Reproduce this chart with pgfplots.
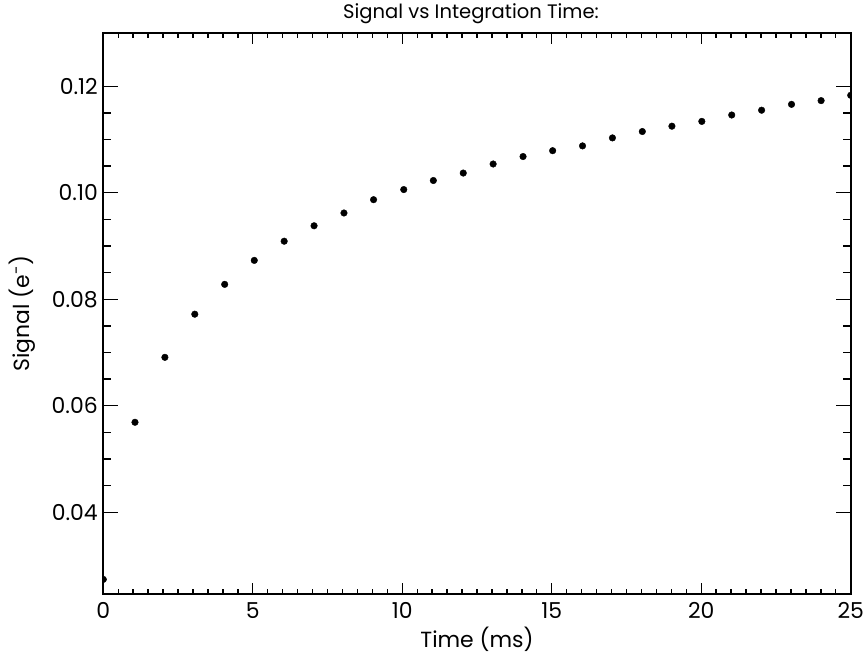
\documentclass[border=0pt]{standalone}
\usepackage{fontspec}
\setmainfont{Poppins}
\usepackage{pgfplots}
\pgfplotsset{compat=1.18}
\begin{document}
\begin{tikzpicture}
\useasboundingbox (-103.3bp,-64.7bp) rectangle (760.7bp,594.3bp);
\begin{axis}[
  at={(0,0)}, anchor=south west,
  scale only axis, width=747.4bp, height=561.3bp,
  xmin=0, xmax=25, ymin=0.0246, ymax=0.130,
  xtick={0,5,10,15,20,25},
  ytick={0.04,0.06,0.08,0.10,0.12},
  minor x tick num=9, minor y tick num=3,
  tick align=inside,
  xtick style={/pgfplots/major tick length=11bp,/pgfplots/minor tick length=5bp},
  ytick style={/pgfplots/major tick length=15bp,/pgfplots/minor tick length=7.7bp},
  axis line style={line width=1.6bp},
  every tick/.style={line width=1.4bp, black},
  font=\fontsize{22}{26}\selectfont,
  /pgf/number format/assume math mode=true,
  yticklabel style={/pgf/number format/fixed, /pgf/number format/precision=2, /pgf/number format/fixed zerofill, xshift=-2bp},
  xticklabel style={yshift=-5bp},
  title={Signal vs Integration Time:},
  title style={at={(axis description cs:0.492,1.0143)}, anchor=base, font=\fontsize{19.6}{23}\selectfont},
  xlabel={Time (ms)},
  xlabel style={at={(axis description cs:0.5,-0.0939)}, anchor=base},
  ylabel={Signal (e\textsuperscript{-})},
  ylabel style={at={(axis description cs:-0.099,0.5)}, anchor=base, rotate=0},
  clip marker paths=true,
]
\addplot[only marks, mark=*, mark size=3.3bp, black] coordinates {
(0.00,0.0274) (1.06,0.0569) (2.06,0.0691) (3.06,0.0772) (4.06,0.0828)
(5.05,0.0873) (6.05,0.0909) (7.05,0.0938) (8.05,0.0962) (9.04,0.0987)
(10.05,0.1006) (11.04,0.1023) (12.04,0.1037) (13.04,0.1054) (14.04,0.1068)
(15.03,0.1079) (16.03,0.1088) (17.03,0.1103) (18.03,0.1115) (19.02,0.1125)
(20.02,0.1134) (21.02,0.1146) (22.02,0.1155) (23.02,0.1166) (24.01,0.1173)
(25.00,0.1183)
};
\end{axis}
\end{tikzpicture}
\end{document}
